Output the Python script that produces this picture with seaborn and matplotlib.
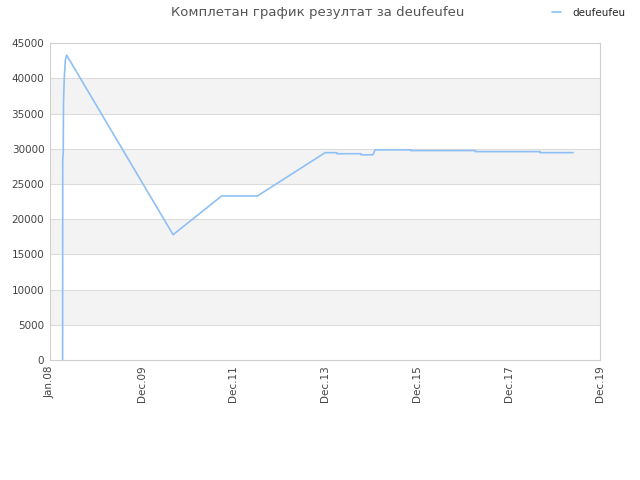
import matplotlib
matplotlib.use("Agg")
import matplotlib.pyplot as plt
import seaborn as sns
import pandas as pd

# (dates approximate)
dates = ["2008-04-11", "2008-04-12", "2008-04-16", "2008-04-18", "2008-04-24",
         "2008-05-03", "2008-05-13", "2010-09-07", "2011-09-29", "2012-07-09",
         "2013-12-30", "2014-04-02", "2014-04-03", "2014-10-10", "2014-10-11",
         "2015-01-14", "2015-02-01", "2015-11-12", "2015-11-13", "2017-04-08",
         "2017-04-09", "2018-09-06", "2018-09-07", "2019-05-26"]
scores = [0, 28500, 29500, 36500, 40000,
          42600, 43300, 17800, 23300, 23300,
          29450, 29450, 29300, 29300, 29150,
          29150, 29850, 29850, 29750, 29750,
          29600, 29600, 29450, 29450]
tick_dates = ["2008-01-01", "2009-12-31", "2011-12-31", "2013-12-30",
              "2015-12-30", "2017-12-29", "2019-12-29"]
tick_labels = ["Jan.08", "Dec.09", "Dec.11", "Dec.13", "Dec.15", "Dec.17", "Dec.19"]
y_ticks = list(range(0, 45001, 5000))

df = pd.DataFrame({"date": pd.to_datetime(dates), "score": scores})

sns.set_style("white")
fig = plt.figure(figsize=(6.4, 4.8), dpi=100)
ax = fig.add_axes([0.078, 0.25, 0.86, 0.66])

# alternating background bands
for i in range(len(y_ticks) - 1):
    if i % 2 == 1:
        ax.axhspan(y_ticks[i], y_ticks[i + 1], color="#f3f3f3", zorder=0, lw=0)
for y in y_ticks[1:-1]:
    ax.axhline(y, color="#dcdcdc", lw=0.8, zorder=1)

sns.lineplot(data=df, x="date", y="score", ax=ax, estimator=None, sort=False,
             color="#8ec0f5", lw=1.2, label="deufeufeu", zorder=3)

ax.set_xlim(pd.Timestamp(tick_dates[0]), pd.Timestamp(tick_dates[-1]))
ax.set_ylim(0, 45000)
ax.set_xticks(pd.to_datetime(tick_dates))
ax.set_xticklabels(tick_labels, rotation=90, fontsize=7.5, color="#444444")
ax.set_yticks(y_ticks)
ax.set_yticklabels([str(v) for v in y_ticks], fontsize=7.5, color="#444444")
ax.tick_params(axis="both", length=0, pad=4)
ax.set_xlabel("")
ax.set_ylabel("")
for s in ax.spines.values():
    s.set_color("#d0d0d0")
    s.set_linewidth(0.8)

fig.text(0.497, 0.973, "Комплетан график резултат за deufeufeu",
         ha="center", va="center", fontsize=9.5, color="#555555")
ax.legend(loc="center left", bbox_to_anchor=(0.848, 0.973),
          bbox_transform=fig.transFigure, frameon=False,
          fontsize=7.5, handlelength=0.9, handletextpad=1.0)

fig.savefig("out.png", dpi=100)
